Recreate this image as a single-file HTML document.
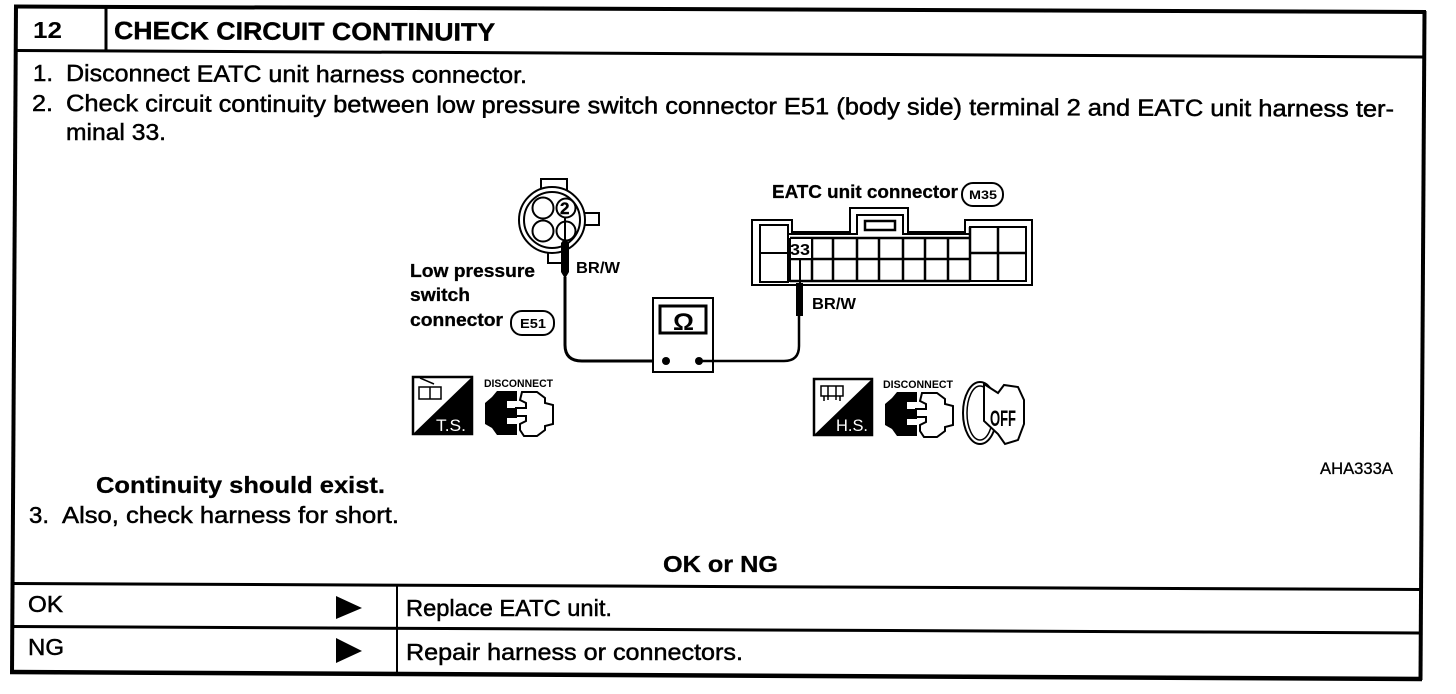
<!DOCTYPE html>
<html><head><meta charset="utf-8">
<style>
html,body{margin:0;padding:0;background:#fff;width:1456px;height:694px;overflow:hidden}
svg{display:block}
text{font-family:"Liberation Sans",sans-serif;fill:#000}
.b{font-size:23.5px;stroke:#000;stroke-width:.5px}
.h{font-size:23.5px;font-weight:bold;stroke:#000;stroke-width:.3px}
.d{font-size:18.5px;font-weight:bold;stroke:#000;stroke-width:.3px}
.l{fill:none;stroke:#000;stroke-width:2}
</style></head><body>
<svg width="1456" height="694" viewBox="0 0 1456 694" xmlns="http://www.w3.org/2000/svg">
<rect width="1456" height="694" fill="#fff"/>
<g stroke="#000" fill="none">
<path d="M14 6.500L1426 12" stroke-width="4"/>
<path d="M16 5L12 674" stroke-width="4"/>
<path d="M1424.500 11L1420.500 680" stroke-width="4"/>
<path d="M10 672L1422 679" stroke-width="4.500"/>
<path d="M16 50.500L1424 57" stroke-width="3"/>
<path d="M13 583.500L1420 589.500" stroke-width="3"/>
<path d="M13 626.500L1420 633" stroke-width="3"/>
<path d="M106 6V50" stroke-width="3"/>
<path d="M397 586V672" stroke-width="2"/>
</g>

<text x="33" y="38" font-size="23" font-weight="bold" textLength="29" lengthAdjust="spacingAndGlyphs">12</text>
<text x="114" y="39" transform="rotate(.25 114 39)" font-size="25" font-weight="bold" stroke="#000" stroke-width=".4" textLength="381" lengthAdjust="spacingAndGlyphs">CHECK CIRCUIT CONTINUITY</text>

<text class="b" x="33" y="81" textLength="20" lengthAdjust="spacingAndGlyphs">1.</text>
<text class="b" x="66" y="81" transform="rotate(.25 66 81)" textLength="461" lengthAdjust="spacingAndGlyphs">Disconnect EATC unit harness connector.</text>
<text class="b" x="32" y="111" textLength="21" lengthAdjust="spacingAndGlyphs">2.</text>
<text class="b" x="66" y="111" transform="rotate(.25 66 111)" textLength="1328" lengthAdjust="spacingAndGlyphs">Check circuit continuity between low pressure switch connector E51 (body side) terminal 2 and EATC unit harness ter-</text>
<text class="b" x="66" y="140" textLength="100" lengthAdjust="spacingAndGlyphs">minal 33.</text>

<text class="h" x="96" y="493" textLength="289" lengthAdjust="spacingAndGlyphs">Continuity should exist.</text>
<text class="b" x="29" y="523" textLength="20" lengthAdjust="spacingAndGlyphs">3.</text>
<text class="b" x="62" y="523" textLength="337" lengthAdjust="spacingAndGlyphs">Also, check harness for short.</text>
<text class="h" x="663" y="572" textLength="115" lengthAdjust="spacingAndGlyphs">OK or NG</text>
<text class="b" x="28" y="612" textLength="35" lengthAdjust="spacingAndGlyphs">OK</text>
<text class="b" x="28" y="655" textLength="36" lengthAdjust="spacingAndGlyphs">NG</text>
<text class="b" x="406" y="616" textLength="206" lengthAdjust="spacingAndGlyphs">Replace EATC unit.</text>
<text class="b" x="406" y="660" textLength="337" lengthAdjust="spacingAndGlyphs">Repair harness or connectors.</text>
<text x="1320" y="474" font-size="17" textLength="73" lengthAdjust="spacingAndGlyphs" stroke="#000" stroke-width=".3">AHA333A</text>
<path d="M336 596L362 608L336 619Z M336 638L362 651L336 663Z" fill="#000"/>

<!-- low pressure switch connector -->
<g fill="#fff" stroke="#000" stroke-width="2">
<rect x="541" y="179" width="26" height="20"/>
<rect x="575" y="213" width="24" height="12"/>
<rect x="548" y="240" width="15" height="23"/>
<circle cx="552" cy="220" r="33"/>
<circle cx="552" cy="220" r="28"/>
<circle cx="543" cy="208" r="10.500"/>
<circle cx="566" cy="208" r="9.500"/>
<circle cx="543" cy="231" r="10.500"/>
<circle cx="566" cy="231" r="9.500"/>
</g>
<text x="560" y="214" font-size="17" font-weight="bold" stroke="#000" stroke-width=".4">2</text>
<path d="M565 217V243" stroke="#000" stroke-width="2"/>
<path d="M561 243L565 238L569 243V272L566 277H564L561 272Z" fill="#000"/>
<path d="M565 277V345Q565 361 582 361H666" fill="none" stroke="#000" stroke-width="3"/>

<!-- meter -->
<rect x="653" y="298" width="60" height="74" fill="#fff" stroke="#000" stroke-width="2"/>
<rect x="660" y="306" width="46" height="27" fill="#fff" stroke="#000" stroke-width="3"/>
<text x="673" y="330" font-size="24" font-weight="bold" textLength="21" lengthAdjust="spacingAndGlyphs">Ω</text>
<circle cx="666" cy="361" r="4" fill="#000"/>
<circle cx="699" cy="361" r="4" fill="#000"/>
<path d="M699 361H784Q799 361 799 346V315" fill="none" stroke="#000" stroke-width="2.500"/>

<!-- EATC connector -->
<path d="M752 220H792V232H850V208H908V232H965V220H1032V285H752Z" fill="#fff" stroke="#000" stroke-width="2"/>
<path d="M760 225H788V282H760Z M760 253H788" class="l"/>
<path d="M788 234H857V215H903V234H970V227H1026V281H790V238" class="l"/>
<path d="M790 238H970 M790 259H970 M790 281H970 M970 253H1026 M998 227V281" class="l" style="stroke-width:2.500"/>
<path d="M812 238V281M833 238V281M857 238V281M879 238V281M903 238V281M925 238V281M948 238V281M970 227V281" class="l" style="stroke-width:2.500"/>
<rect x="865" y="221" width="30" height="9" fill="#fff" stroke="#000" stroke-width="2.500"/>
<rect x="791" y="239" width="20" height="19" fill="#fff"/>
<text x="790" y="255" font-size="16" font-weight="bold" textLength="20" lengthAdjust="spacingAndGlyphs">33</text>
<path d="M800 260V283" stroke="#000" stroke-width="2"/>
<rect x="796" y="283" width="7" height="33" fill="#000"/>

<!-- labels -->
<text class="d" x="772" y="198" textLength="186" lengthAdjust="spacingAndGlyphs">EATC unit connector</text>
<rect x="962" y="183" width="41" height="23" rx="11" fill="#fff" stroke="#000" stroke-width="2"/>
<text x="969" y="199" font-size="12" font-weight="bold" textLength="28" lengthAdjust="spacingAndGlyphs">M35</text>
<text x="576" y="273" font-size="16" font-weight="bold" textLength="44" lengthAdjust="spacingAndGlyphs">BR/W</text>
<text x="812" y="309" font-size="16" font-weight="bold" textLength="44" lengthAdjust="spacingAndGlyphs">BR/W</text>
<text class="d" x="410" y="277" textLength="125" lengthAdjust="spacingAndGlyphs">Low pressure</text>
<text class="d" x="410" y="301" textLength="60" lengthAdjust="spacingAndGlyphs">switch</text>
<text class="d" x="410" y="326" textLength="93" lengthAdjust="spacingAndGlyphs">connector</text>
<rect x="511" y="311" width="43" height="24" rx="11" fill="#fff" stroke="#000" stroke-width="2"/>
<text x="520" y="328" font-size="13" font-weight="bold" textLength="26" lengthAdjust="spacingAndGlyphs">E51</text>

<!-- T.S. -->
<rect x="413" y="377" width="59" height="57" fill="#fff" stroke="#000" stroke-width="2.500"/>
<path d="M472 377V434H413Z" fill="#000"/>
<text x="436" y="431" font-size="17" style="fill:#fff" textLength="30" lengthAdjust="spacingAndGlyphs">T.S.</text>
<path d="M419 387h22v12h-22zM430 387v12M420 378l14 6" fill="#fff" stroke="#000" stroke-width="1.500"/>
<text x="484" y="387" font-size="11" font-weight="bold" textLength="69" lengthAdjust="spacingAndGlyphs">DISCONNECT</text>
<path d="M497 391H517V401H507V408H517V418H507V424H517V435H497L492 428L485 424V403L492 397Z" fill="#000"/>
<path d="M522 392H537L545 398V403L553 405V424L545 426V430L537 436H524L520 430V424L526 421V416L516 416V408H526V403L520 400Z" fill="#fff" stroke="#000" stroke-width="2"/>

<!-- H.S. -->
<rect x="814" y="379" width="58" height="56" fill="#fff" stroke="#000" stroke-width="2.500"/>
<path d="M872 379V435H814Z" fill="#000"/>
<text x="836" y="431" font-size="17" style="fill:#fff" textLength="32" lengthAdjust="spacingAndGlyphs">H.S.</text>
<path d="M821 386h22v10h-22zM828 386v14M836 386v14M824 396v5M840 396v5" fill="#fff" stroke="#000" stroke-width="1.500"/>
<text x="883" y="388" font-size="11" font-weight="bold" textLength="70" lengthAdjust="spacingAndGlyphs">DISCONNECT</text>
<g transform="translate(400 1)">
<path d="M497 391H517V401H507V408H517V418H507V424H517V435H497L492 428L485 424V403L492 397Z" fill="#000"/>
<path d="M522 392H537L545 398V403L553 405V424L545 426V430L537 436H524L520 430V424L526 421V416L516 416V408H526V403L520 400Z" fill="#fff" stroke="#000" stroke-width="2"/>
</g>

<!-- key -->
<ellipse cx="980" cy="413" rx="17" ry="31" fill="#fff" stroke="#000" stroke-width="2"/>
<ellipse cx="980" cy="413" rx="13" ry="27" fill="#fff" stroke="#000" stroke-width="1.500"/>
<path d="M984 384L998 393L1004 385L1018 387L1024 400V424L1018 440L1005 444L998 434L984 421Z" fill="#fff" stroke="#000" stroke-width="2"/>
<text x="990" y="426" font-size="22" font-weight="bold" textLength="26" lengthAdjust="spacingAndGlyphs">OFF</text>
</svg>
</body></html>
